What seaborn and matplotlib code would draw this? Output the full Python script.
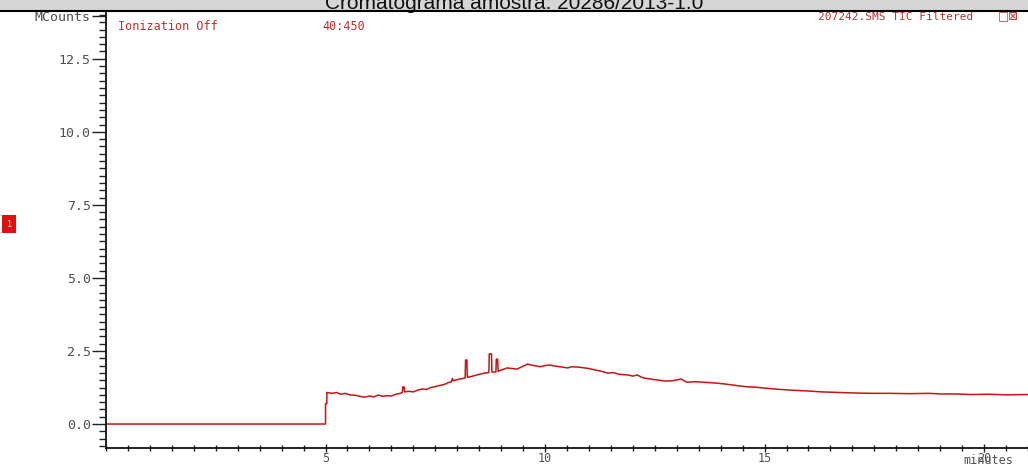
import numpy as np
import pandas as pd
import seaborn as sns

import matplotlib
matplotlib.use('Agg')
import matplotlib.pyplot as plt
from matplotlib.lines import Line2D
from matplotlib.patches import Rectangle
from matplotlib.ticker import MultipleLocator

# retention time (min) and TIC signal (MCounts)
rt_min = [0.0, 5.0, 5.0, 5.03, 5.03, 5.15, 5.25, 5.35, 5.45, 5.55, 5.7, 5.8, 5.9,
          6.0, 6.1, 6.2, 6.3, 6.4, 6.5, 6.6, 6.7, 6.75, 6.76, 6.79, 6.8, 6.9,
          7.0, 7.1, 7.2, 7.3, 7.4, 7.5, 7.6, 7.7, 7.8, 7.87, 7.89, 7.91, 8.0,
          8.1, 8.18, 8.19, 8.22, 8.23, 8.3, 8.4, 8.52, 8.62, 8.72, 8.73, 8.78,
          8.79, 8.88, 8.89, 8.92, 8.93, 9.0, 9.14, 9.25, 9.36, 9.5, 9.6, 9.75,
          9.89, 10.0, 10.1, 10.2, 10.34, 10.52, 10.6, 10.75, 10.9, 11.0, 11.14,
          11.3, 11.43, 11.55, 11.7, 11.89, 12.0, 12.1, 12.2, 12.27, 12.5, 12.73,
          12.9, 13.1, 13.23, 13.4, 13.64, 13.9, 14.1, 14.3, 14.55, 14.8, 15.0,
          15.3, 15.6, 16.0, 16.3, 16.7, 17.1, 17.5, 17.84, 18.3, 18.75, 19.0,
          19.36, 19.7, 20.1, 20.5, 21.0]
tic_mcounts = [0.0, 0.0, 0.7, 0.7, 1.08, 1.05, 1.08, 1.02, 1.05, 1.0, 0.98, 0.94, 0.92,
               0.96, 0.93, 0.99, 0.95, 0.97, 0.96, 1.02, 1.05, 1.08, 1.27, 1.27, 1.1, 1.12,
               1.1, 1.16, 1.2, 1.18, 1.25, 1.28, 1.32, 1.35, 1.42, 1.45, 1.56, 1.48, 1.52,
               1.55, 1.58, 2.19, 2.19, 1.6, 1.62, 1.66, 1.71, 1.74, 1.76, 2.4, 2.4,
               1.78, 1.78, 2.22, 2.22, 1.8, 1.85, 1.92, 1.9, 1.88, 1.98, 2.05, 2.0,
               1.96, 2.0, 2.02, 1.99, 1.96, 1.92, 1.96, 1.95, 1.92, 1.9, 1.85,
               1.8, 1.74, 1.76, 1.7, 1.68, 1.64, 1.68, 1.6, 1.57, 1.52, 1.47,
               1.48, 1.54, 1.43, 1.45, 1.43, 1.4, 1.37, 1.33, 1.28, 1.26, 1.23,
               1.19, 1.16, 1.13, 1.1, 1.08, 1.06, 1.05, 1.05, 1.04, 1.05, 1.03,
               1.03, 1.01, 1.02, 1.0, 1.01]

y_ticks = [0.0, 2.5, 5.0, 7.5, 10.0, 12.5, 13.97]
y_tick_labels = ["0.0", "2.5", "5.0", "7.5", "10.0", "12.5", "MCounts"]
x_ticks = [5, 10, 15, 20]
x_tick_labels = ["5", "10", "15", "20"]

title = "Cromatograma amostra: 20286/2013-1.0"
trace_name = "207242.SMS TIC Filtered"
red = "#b83232"
mono = "DejaVu Sans Mono"

df = pd.DataFrame({"rt": rt_min, "tic": tic_mcounts})

sns.set_style("white")
fig = plt.figure(figsize=(10.28, 4.65), dpi=100)
W, H = 1028, 465
ax = fig.add_axes([106 / W, 1 - 448 / H, 1 - 106 / W, (448 - 12) / H])

sns.lineplot(data=df, x="rt", y="tic", sort=False, estimator=None,
             color="#c81414", linewidth=1.1, ax=ax)

ax.set_xlim(0, 21)
ax.set_ylim(-0.82, 14.1)
ax.set_xlabel("")
ax.set_ylabel("")

ax.set_yticks(y_ticks)
ax.set_yticklabels(y_tick_labels, family=mono, fontsize=9.5, color="#505050")
ax.yaxis.set_minor_locator(MultipleLocator(0.25))
ax.tick_params(axis="y", which="major", direction="out", length=10, width=1,
               color="#222222", pad=1, left=True, right=True)
ax.tick_params(axis="y", which="minor", direction="out", length=5, width=1,
               color="#222222", left=True, right=True)

ax.set_xticks(x_ticks)
ax.set_xticklabels(x_tick_labels, family=mono, fontsize=8.5, color="#505050")
ax.xaxis.set_minor_locator(MultipleLocator(0.5))
ax.tick_params(axis="x", which="major", direction="inout", length=6, width=1,
               color="#222222", pad=0, bottom=True)
ax.tick_params(axis="x", which="minor", direction="inout", length=4, width=1,
               color="#222222", bottom=True)

for side in ["top", "right"]:
    ax.spines[side].set_visible(False)
for side in ["left", "bottom"]:
    ax.spines[side].set_color("#111111")
    ax.spines[side].set_linewidth(1.3)

fig.text(988 / W, 1 - 464 / H, "minutes", ha="center", va="baseline",
         family=mono, fontsize=8.5, color="#505050")

# labels inside the plot
fig.text(118 / W, 1 - 26 / H, "Ionization Off", family=mono, fontsize=8.5,
         color=red, va="center")
fig.text(322 / W, 1 - 26 / H, "40:450", family=mono, fontsize=8.5,
         color=red, va="center")
fig.text(973 / W, 1 - 17 / H, trace_name, family=mono, fontsize=8,
         color=red, ha="right", va="center")
fig.text(1008 / W, 1 - 17 / H, "\u25a1\u22a0", family="DejaVu Sans", fontsize=8.5,
         color=red, ha="center", va="center")

# title bar
fig.patches.append(Rectangle((0, 1 - 11 / H), 1, 11 / H, transform=fig.transFigure,
                             facecolor="#d6d6d6", edgecolor="none", zorder=0))
fig.lines.append(Line2D([0, 1], [1 - 11.5 / H, 1 - 11.5 / H], transform=fig.transFigure,
                        color="black", linewidth=1.5, zorder=5))
fig.text(0.5, 1 - 9 / H, title, family="Liberation Sans", fontsize=15,
         color="#111111", ha="center", va="baseline", zorder=1)

# trace marker box at the left
fig.text(9 / W, 1 - 224 / H, "1", family="DejaVu Sans", fontsize=6, color="white",
         ha="center", va="center",
         bbox=dict(boxstyle="square,pad=0.5", facecolor="#e01010", edgecolor="none"))

fig.savefig("out.png", dpi=100)
plt.close(fig)
